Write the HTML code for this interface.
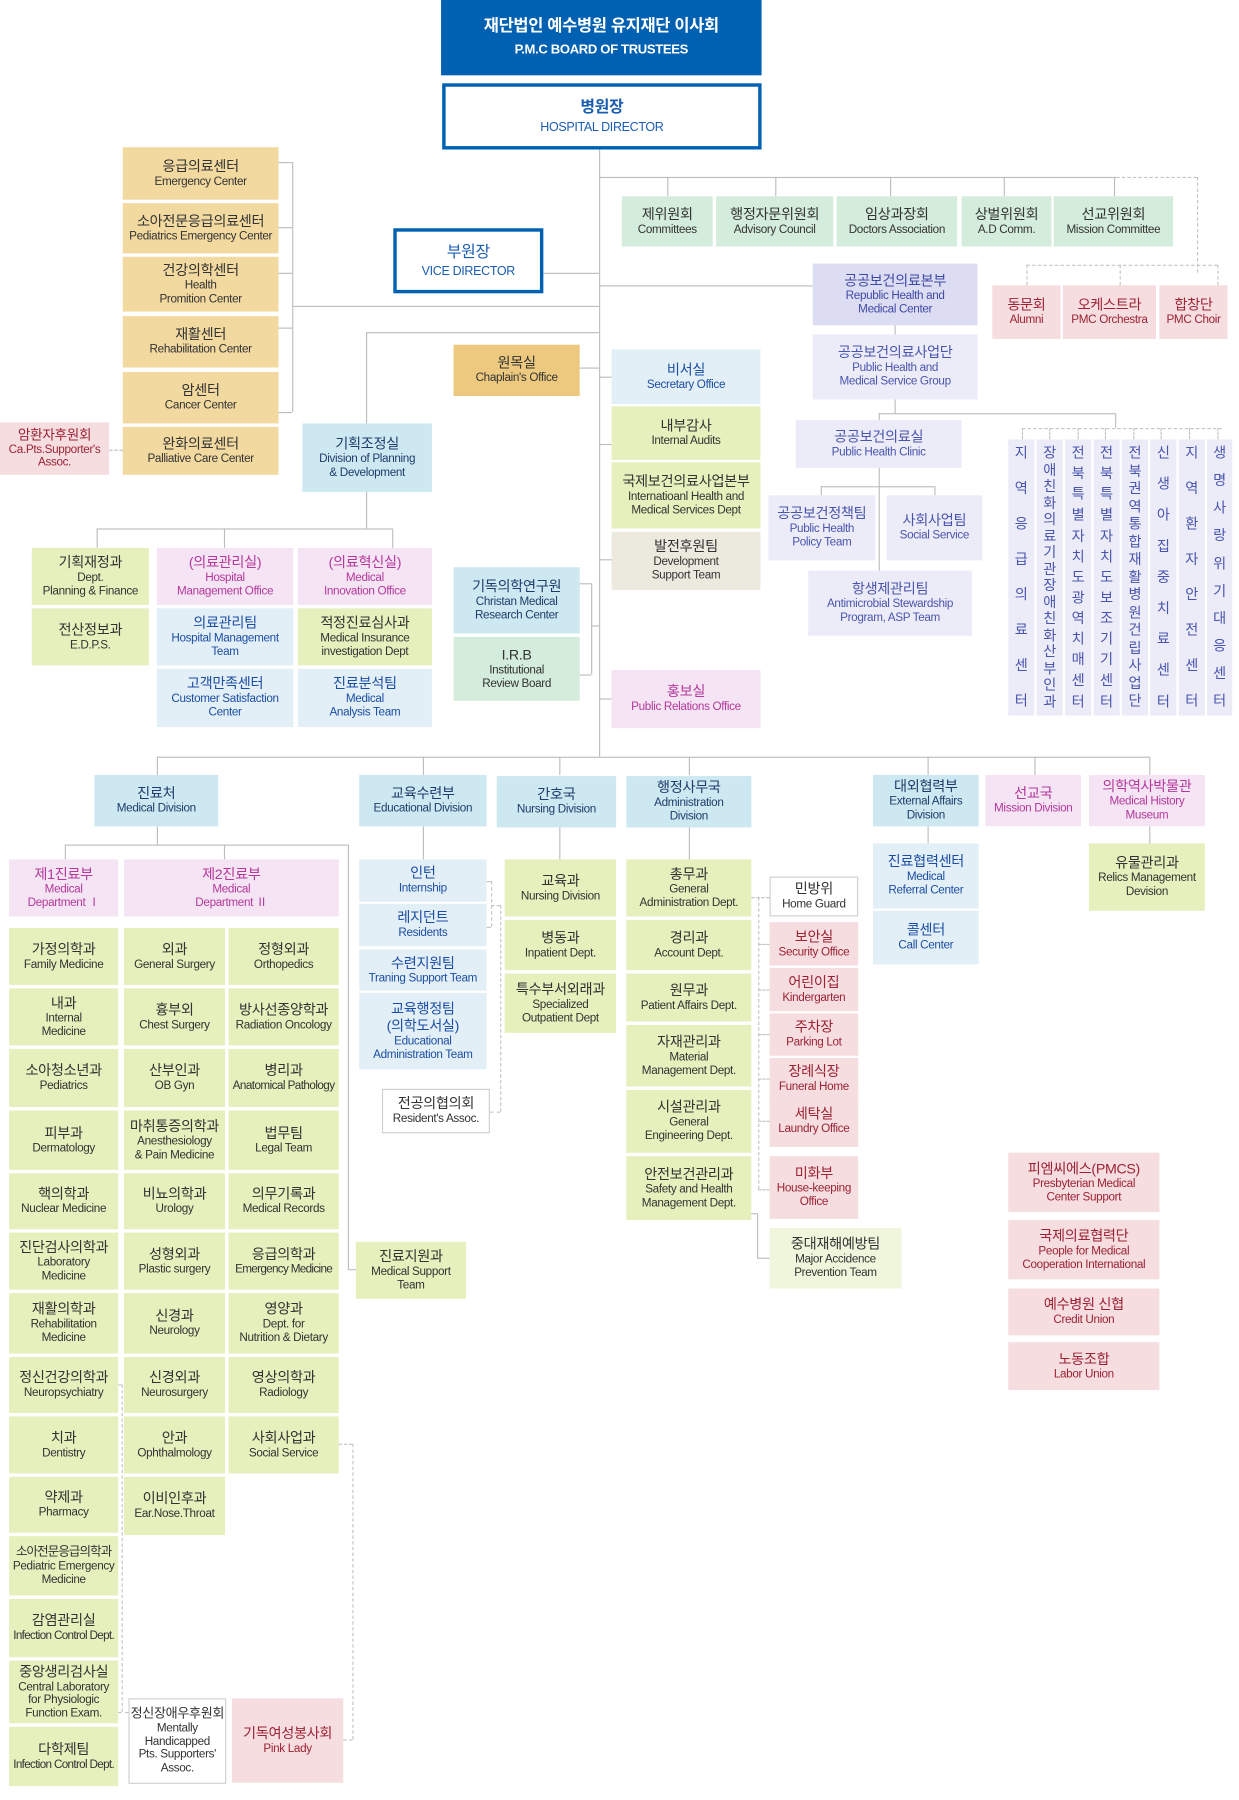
<!DOCTYPE html>
<html><head><meta charset="utf-8">
<style>
html,body{margin:0;padding:0;background:#fff;}
body{width:1239px;height:1792px;overflow:hidden;position:relative;}
#w{position:absolute;left:0;top:0;width:1090px;height:1577px;transform:scale(1.1367,1.1413);transform-origin:0 0;font-family:"Liberation Sans","Noto Sans CJK KR",sans-serif;}
.b{position:absolute;display:flex;flex-direction:column;align-items:center;justify-content:center;text-align:center;box-sizing:border-box;font-size:12.5px;line-height:1.2;color:#333;letter-spacing:-0.3px;}
.b s{text-decoration:none;font-size:10.3px;line-height:1.12;display:block;}
.h{position:absolute;height:0;border-top:1px solid #bdbdbd;}
.v{position:absolute;width:0;border-left:1px solid #bdbdbd;}
.hd{position:absolute;height:0;border-top:1px dashed #c4c4c4;}
.vd{position:absolute;width:0;border-left:1px dashed #c4c4c4;}
.or{background:#f2d9a0;color:#333}
.or2{background:#edc97f;color:#333}
.mi{background:#d3ecdb;color:#333}
.li{background:#e5f0bc;color:#333}
.li2{background:#eff6dc;color:#333}
.lb{background:#cde8f0;color:#1e3d6c}
.lb2{background:#e2eff7;color:#1d4ea3}
.pp{background:#f5e4f3;color:#b3399c}
.pk{background:#f6dde0;color:#9b2335}
.la{background:#dcdcf2;color:#3f4aa5}
.la2{background:#ececf8;color:#4a55ad}
.be{background:#eceadf;color:#333}
.wh{background:#fff;border:1px solid #cfcfcf;color:#333}
.col{position:absolute;background:#ececf8;color:#4a55ad;display:flex;flex-direction:column;align-items:center;justify-content:space-between;padding:6px 0;box-sizing:border-box;font-size:12.5px;line-height:1;}
</style></head><body><div id="w">

<!-- top -->
<div class="b" style="left:388px;top:0;width:282px;height:66px;background:#0061b3;color:#fff;font-size:14.5px;font-weight:bold;">재단법인 예수병원 유지재단 이사회<s style="font-size:11.5px;margin-top:5px;font-weight:bold">P.M.C BOARD OF TRUSTEES</s></div>
<div class="b" style="left:389px;top:73px;width:281px;height:58px;border:3px solid #0061b3;color:#1a5db0;font-size:14px;font-weight:bold;">병원장<s style="font-size:11px;margin-top:4px;font-weight:normal">HOSPITAL DIRECTOR</s></div>

<div class="v" style="left:527px;top:131px;height:532px"></div>

<!-- committees -->
<div class="h" style="left:527px;top:155px;width:455px"></div>
<div class="hd" style="left:982px;top:155px;width:71px"></div>
<div class="vd" style="left:1053px;top:155px;height:84px"></div>
<div class="hd" style="left:903px;top:232px;width:168px"></div>
<div class="vd" style="left:903px;top:232px;height:18px"></div>
<div class="vd" style="left:985px;top:232px;height:18px"></div>
<div class="vd" style="left:1071px;top:232px;height:18px"></div>
<div class="v" style="left:587px;top:155px;height:17px"></div>
<div class="v" style="left:682px;top:155px;height:17px"></div>
<div class="v" style="left:783px;top:155px;height:17px"></div>
<div class="v" style="left:883px;top:155px;height:17px"></div>
<div class="v" style="left:980px;top:155px;height:17px"></div>
<div class="b mi" style="left:547px;top:172px;width:80px;height:44px">제위원회<s>Committees</s></div>
<div class="b mi" style="left:630px;top:172px;width:103px;height:44px">행정자문위원회<s>Advisory Council</s></div>
<div class="b mi" style="left:736px;top:172px;width:106px;height:44px">임상과장회<s>Doctors Association</s></div>
<div class="b mi" style="left:846px;top:172px;width:79px;height:44px">상벌위원회<s>A.D Comm.</s></div>
<div class="b mi" style="left:927px;top:172px;width:105px;height:44px">선교위원회<s>Mission Committee</s></div>
<div class="b pk" style="left:873px;top:250px;width:60px;height:47px">동문회<s>Alumni</s></div>
<div class="b pk" style="left:935px;top:250px;width:82px;height:47px">오케스트라<s>PMC Orchestra</s></div>
<div class="b pk" style="left:1020px;top:250px;width:60px;height:47px">합창단<s>PMC Choir</s></div>

<!-- left orange -->
<div class="b or" style="left:108px;top:129px;width:137px;height:46px">응급의료센터<s>Emergency Center</s></div>
<div class="b or" style="left:108px;top:178px;width:137px;height:44px">소아전문응급의료센터<s>Pediatrics Emergency Center</s></div>
<div class="b or" style="left:108px;top:225px;width:137px;height:48px">건강의학센터<s>Health<br>Promition Center</s></div>
<div class="b or" style="left:108px;top:277px;width:137px;height:45px">재활센터<s>Rehabilitation Center</s></div>
<div class="b or" style="left:108px;top:326px;width:137px;height:45px">암센터<s>Cancer Center</s></div>
<div class="b or" style="left:108px;top:374px;width:137px;height:42px">완화의료센터<s>Palliative Care Center</s></div>
<div class="v" style="left:257px;top:142px;height:219px"></div>
<div class="h" style="left:245px;top:142px;width:12px"></div>
<div class="h" style="left:245px;top:199px;width:12px"></div>
<div class="h" style="left:245px;top:239px;width:12px"></div>
<div class="h" style="left:245px;top:287px;width:12px"></div>
<div class="h" style="left:245px;top:361px;width:12px"></div>
<div class="h" style="left:257px;top:268px;width:270px"></div>
<div class="b pk" style="left:0;top:370px;width:96px;height:46px;font-size:12px">암환자후원회<s>Ca.Pts.Supporter's<br>Assoc.</s></div>
<div class="hd" style="left:96px;top:394px;width:12px"></div>

<!-- vice director -->
<div class="b" style="left:346px;top:200px;width:132px;height:57px;border:3px solid #0061b3;color:#1a5db0;font-size:14px;">부원장<s style="font-size:11px;margin-top:3px">VICE DIRECTOR</s></div>
<div class="h" style="left:478px;top:239px;width:49px"></div>

<!-- planning -->
<div class="h" style="left:322px;top:291px;width:205px"></div>
<div class="v" style="left:322px;top:291px;height:80px"></div>
<div class="b lb" style="left:266px;top:371px;width:114px;height:60px">기획조정실<s>Division of Planning<br>&amp; Development</s></div>
<div class="v" style="left:322px;top:431px;height:32px"></div>
<div class="h" style="left:85px;top:463px;width:260px"></div>
<div class="v" style="left:85px;top:463px;height:17px"></div>
<div class="v" style="left:197px;top:463px;height:17px"></div>
<div class="v" style="left:345px;top:463px;height:17px"></div>
<div class="b li" style="left:28px;top:480px;width:103px;height:50px">기획재정과<s>Dept.<br>Planning &amp; Finance</s></div>
<div class="b li" style="left:28px;top:533px;width:103px;height:50px">전산정보과<s>E.D.P.S.</s></div>
<div class="b pp" style="left:138px;top:480px;width:120px;height:50px">(의료관리실)<s>Hospital<br>Management Office</s></div>
<div class="b lb2" style="left:138px;top:533px;width:120px;height:50px">의료관리팀<s>Hospital Management<br>Team</s></div>
<div class="b lb2" style="left:138px;top:586px;width:120px;height:51px">고객만족센터<s>Customer Satisfaction<br>Center</s></div>
<div class="b pp" style="left:262px;top:480px;width:118px;height:50px">(의료혁신실)<s>Medical<br>Innovation Office</s></div>
<div class="b li" style="left:262px;top:533px;width:118px;height:50px">적정진료심사과<s>Medical Insurance<br>investigation Dept</s></div>
<div class="b lb2" style="left:262px;top:586px;width:118px;height:51px">진료분석팀<s>Medical<br>Analysis Team</s></div>

<!-- chaplain / research -->
<div class="b or2" style="left:399px;top:302px;width:111px;height:45px">원목실<s>Chaplain's Office</s></div>
<div class="h" style="left:510px;top:322px;width:17px"></div>
<div class="b lb" style="left:399px;top:497px;width:111px;height:58px">기독의학연구원<s>Christan Medical<br>Research Center</s></div>
<div class="b mi" style="left:399px;top:558px;width:111px;height:56px">I.R.B<s>Institutional<br>Review Board</s></div>
<div class="v" style="left:520px;top:511px;height:80px"></div>
<div class="h" style="left:510px;top:511px;width:10px"></div>
<div class="h" style="left:510px;top:591px;width:10px"></div>
<div class="h" style="left:520px;top:548px;width:7px"></div>

<!-- middle column -->
<div class="b lb2" style="left:538px;top:306px;width:131px;height:48px">비서실<s>Secretary Office</s></div>
<div class="b li" style="left:538px;top:356px;width:131px;height:47px">내부감사<s>Internal Audits</s></div>
<div class="b li" style="left:538px;top:405px;width:131px;height:58px">국제보건의료사업본부<s>Internatioanl Health and<br>Medical Services Dept</s></div>
<div class="b be" style="left:538px;top:466px;width:131px;height:51px">발전후원팀<s>Development<br>Support Team</s></div>
<div class="b pp" style="left:538px;top:587px;width:131px;height:51px">홍보실<s>Public Relations Office</s></div>
<div class="h" style="left:527px;top:330px;width:11px"></div>
<div class="h" style="left:527px;top:389px;width:11px"></div>
<div class="h" style="left:527px;top:490px;width:11px"></div>
<div class="h" style="left:527px;top:612px;width:11px"></div>

<!-- public health -->
<div class="h" style="left:527px;top:250px;width:188px"></div>
<div class="b la" style="left:715px;top:231px;width:145px;height:54px">공공보건의료본부<s>Republic Health and<br>Medical Center</s></div>
<div class="v" style="left:787px;top:285px;height:8px"></div>
<div class="b la2" style="left:715px;top:293px;width:145px;height:57px">공공보건의료사업단<s>Public Health and<br>Medical Service Group</s></div>
<div class="v" style="left:787px;top:350px;height:12px"></div>
<div class="h" style="left:773px;top:362px;width:208px"></div>
<div class="v" style="left:773px;top:362px;height:6px"></div>
<div class="v" style="left:981px;top:362px;height:13px"></div>
<div class="hd" style="left:899px;top:375px;width:176px"></div>
<div class="b la2" style="left:700px;top:368px;width:146px;height:42px">공공보건의료실<s>Public Health Clinic</s></div>
<div class="v" style="left:773px;top:410px;height:90px"></div>
<div class="h" style="left:722px;top:426px;width:100px"></div>
<div class="v" style="left:722px;top:426px;height:8px"></div>
<div class="v" style="left:822px;top:426px;height:8px"></div>
<div class="b la2" style="left:676px;top:434px;width:94px;height:57px">공공보건정책팀<s>Public Health<br>Policy Team</s></div>
<div class="b la2" style="left:780px;top:434px;width:84px;height:57px">사회사업팀<s>Social Service</s></div>
<div class="b la2" style="left:711px;top:500px;width:144px;height:57px">항생제관리팀<s>Antimicrobial Stewardship<br>Program, ASP Team</s></div>

<div class="vd" style="left:899px;top:375px;height:10px"></div>
<div class="vd" style="left:923px;top:375px;height:10px"></div>
<div class="vd" style="left:948px;top:375px;height:10px"></div>
<div class="vd" style="left:972px;top:375px;height:10px"></div>
<div class="vd" style="left:997px;top:375px;height:10px"></div>
<div class="vd" style="left:1021px;top:375px;height:10px"></div>
<div class="vd" style="left:1046px;top:375px;height:10px"></div>
<div class="vd" style="left:1071px;top:375px;height:10px"></div>
<div class="col" style="left:887px;top:385px;width:23px;height:242px"><span>지</span><span>역</span><span>응</span><span>급</span><span>의</span><span>료</span><span>센</span><span>터</span></div>
<div class="col" style="left:912px;top:385px;width:23px;height:242px"><span>장</span><span>애</span><span>친</span><span>화</span><span>의</span><span>료</span><span>기</span><span>관</span><span>장</span><span>애</span><span>친</span><span>화</span><span>산</span><span>부</span><span>인</span><span>과</span></div>
<div class="col" style="left:937px;top:385px;width:23px;height:242px"><span>전</span><span>북</span><span>특</span><span>별</span><span>자</span><span>치</span><span>도</span><span>광</span><span>역</span><span>치</span><span>매</span><span>센</span><span>터</span></div>
<div class="col" style="left:962px;top:385px;width:23px;height:242px"><span>전</span><span>북</span><span>특</span><span>별</span><span>자</span><span>치</span><span>도</span><span>보</span><span>조</span><span>기</span><span>기</span><span>센</span><span>터</span></div>
<div class="col" style="left:987px;top:385px;width:23px;height:242px"><span>전</span><span>북</span><span>권</span><span>역</span><span>통</span><span>합</span><span>재</span><span>활</span><span>병</span><span>원</span><span>건</span><span>립</span><span>사</span><span>업</span><span>단</span></div>
<div class="col" style="left:1012px;top:385px;width:23px;height:242px"><span>신</span><span>생</span><span>아</span><span>집</span><span>중</span><span>치</span><span>료</span><span>센</span><span>터</span></div>
<div class="col" style="left:1037px;top:385px;width:23px;height:242px"><span>지</span><span>역</span><span>환</span><span>자</span><span>안</span><span>전</span><span>센</span><span>터</span></div>
<div class="col" style="left:1062px;top:385px;width:22px;height:242px"><span>생</span><span>명</span><span>사</span><span>랑</span><span>위</span><span>기</span><span>대</span><span>응</span><span>센</span><span>터</span></div>

<!-- bottom divisions -->
<div class="h" style="left:138px;top:663px;width:873px"></div>
<div class="v" style="left:138px;top:663px;height:16px"></div>
<div class="v" style="left:372px;top:663px;height:16px"></div>
<div class="v" style="left:492px;top:663px;height:16px"></div>
<div class="v" style="left:606px;top:663px;height:16px"></div>
<div class="v" style="left:816px;top:663px;height:16px"></div>
<div class="v" style="left:910px;top:663px;height:16px"></div>
<div class="v" style="left:1011px;top:663px;height:16px"></div>
<div class="b lb" style="left:83px;top:679px;width:109px;height:45px">진료처<s>Medical Division</s></div>
<div class="b lb" style="left:316px;top:679px;width:112px;height:45px">교육수련부<s>Educational Division</s></div>
<div class="b lb" style="left:437px;top:680px;width:105px;height:45px">간호국<s>Nursing Division</s></div>
<div class="b lb" style="left:551px;top:680px;width:110px;height:45px">행정사무국<s>Administration<br>Division</s></div>
<div class="b lb" style="left:768px;top:679px;width:93px;height:45px">대외협력부<s>External Affairs<br>Division</s></div>
<div class="b pp" style="left:867px;top:679px;width:84px;height:45px">선교국<s>Mission Division</s></div>
<div class="b pp" style="left:958px;top:679px;width:102px;height:45px">의학역사박물관<s>Medical History<br>Museum</s></div>

<!-- medical division -->
<div class="v" style="left:138px;top:724px;height:16px"></div>
<div class="h" style="left:57px;top:740px;width:249px"></div>
<div class="v" style="left:57px;top:740px;height:13px"></div>
<div class="v" style="left:197px;top:740px;height:13px"></div>
<div class="v" style="left:306px;top:740px;height:372px"></div>
<div class="h" style="left:306px;top:1112px;width:7px"></div>
<div class="b pp" style="left:8px;top:753px;width:96px;height:50px">제1진료부<s>Medical<br>Department Ⅰ</s></div>
<div class="b pp" style="left:109px;top:753px;width:189px;height:50px">제2진료부<s>Medical<br>Department Ⅱ</s></div>

<div class="b li" style="left:8px;top:813px;width:96px;height:50px">가정의학과<s>Family Medicine</s></div>
<div class="b li" style="left:8px;top:866px;width:96px;height:50px">내과<s>Internal<br>Medicine</s></div>
<div class="b li" style="left:8px;top:919px;width:96px;height:51px">소아청소년과<s>Pediatrics</s></div>
<div class="b li" style="left:8px;top:973px;width:96px;height:52px">피부과<s>Dermatology</s></div>
<div class="b li" style="left:8px;top:1028px;width:96px;height:49px">핵의학과<s>Nuclear Medicine</s></div>
<div class="b li" style="left:8px;top:1080px;width:96px;height:50px">진단검사의학과<s>Laboratory<br>Medicine</s></div>
<div class="b li" style="left:8px;top:1133px;width:96px;height:53px">재활의학과<s>Rehabilitation<br>Medicine</s></div>
<div class="b li" style="left:8px;top:1189px;width:96px;height:49px">정신건강의학과<s>Neuropsychiatry</s></div>
<div class="b li" style="left:8px;top:1241px;width:96px;height:50px">치과<s>Dentistry</s></div>
<div class="b li" style="left:8px;top:1294px;width:96px;height:49px">약제과<s>Pharmacy</s></div>
<div class="b li" style="left:8px;top:1346px;width:96px;height:52px;font-size:11px;letter-spacing:-0.8px;white-space:nowrap">소아전문응급의학과<s style="letter-spacing:-0.3px">Pediatric Emergency<br>Medicine</s></div>
<div class="b li" style="left:8px;top:1401px;width:96px;height:51px">감염관리실<s style="letter-spacing:-0.6px">Infection Control Dept.</s></div>
<div class="b li" style="left:8px;top:1455px;width:96px;height:55px">중앙생리검사실<s>Central Laboratory<br>for Physiologic<br>Function Exam.</s></div>
<div class="b li" style="left:8px;top:1513px;width:96px;height:52px">다학제팀<s style="letter-spacing:-0.6px">Infection Control Dept.</s></div>

<div class="b li" style="left:109px;top:813px;width:89px;height:50px">외과<s>General Surgery</s></div>
<div class="b li" style="left:109px;top:866px;width:89px;height:50px">흉부외<s>Chest Surgery</s></div>
<div class="b li" style="left:109px;top:919px;width:89px;height:51px">산부인과<s>OB Gyn</s></div>
<div class="b li" style="left:109px;top:973px;width:89px;height:52px">마취통증의학과<s>Anesthesiology<br>&amp; Pain Medicine</s></div>
<div class="b li" style="left:109px;top:1028px;width:89px;height:49px">비뇨의학과<s>Urology</s></div>
<div class="b li" style="left:109px;top:1080px;width:89px;height:50px">성형외과<s>Plastic surgery</s></div>
<div class="b li" style="left:109px;top:1133px;width:89px;height:53px">신경과<s>Neurology</s></div>
<div class="b li" style="left:109px;top:1189px;width:89px;height:49px">신경외과<s>Neurosurgery</s></div>
<div class="b li" style="left:109px;top:1241px;width:89px;height:50px">안과<s>Ophthalmology</s></div>
<div class="b li" style="left:109px;top:1294px;width:89px;height:51px">이비인후과<s>Ear.Nose.Throat</s></div>

<div class="b li" style="left:201px;top:813px;width:97px;height:50px">정형외과<s>Orthopedics</s></div>
<div class="b li" style="left:201px;top:866px;width:97px;height:50px">방사선종양학과<s>Radiation Oncology</s></div>
<div class="b li" style="left:201px;top:919px;width:97px;height:51px">병리과<s style="letter-spacing:-0.5px">Anatomical Pathology</s></div>
<div class="b li" style="left:201px;top:973px;width:97px;height:52px">법무팀<s>Legal Team</s></div>
<div class="b li" style="left:201px;top:1028px;width:97px;height:49px">의무기록과<s>Medical Records</s></div>
<div class="b li" style="left:201px;top:1080px;width:97px;height:50px">응급의학과<s style="letter-spacing:-0.6px">Emergency Medicine</s></div>
<div class="b li" style="left:201px;top:1133px;width:97px;height:53px">영양과<s>Dept. for<br>Nutrition &amp; Dietary</s></div>
<div class="b li" style="left:201px;top:1189px;width:97px;height:49px">영상의학과<s>Radiology</s></div>
<div class="b li" style="left:201px;top:1241px;width:97px;height:50px">사회사업과<s>Social Service</s></div>

<div class="vd" style="left:107px;top:1213px;height:287px"></div>
<div class="hd" style="left:104px;top:1213px;width:3px"></div>
<div class="hd" style="left:104px;top:1500px;width:9px"></div>
<div class="b wh" style="left:113px;top:1488px;width:86px;height:75px;font-size:11.5px">정신장애우후원회<s>Mentally<br>Handicapped<br>Pts. Supporters'<br>Assoc.</s></div>
<div class="b pk" style="left:204px;top:1488px;width:98px;height:74px">기독여성봉사회<s>Pink Lady</s></div>
<div class="hd" style="left:298px;top:1265px;width:12px"></div>
<div class="vd" style="left:310px;top:1265px;height:259px"></div>
<div class="hd" style="left:302px;top:1524px;width:8px"></div>

<!-- education -->
<div class="v" style="left:372px;top:724px;height:29px"></div>
<div class="b lb2" style="left:316px;top:753px;width:112px;height:37px">인턴<s>Internship</s></div>
<div class="b lb2" style="left:316px;top:792px;width:112px;height:37px">레지던트<s>Residents</s></div>
<div class="b lb2" style="left:316px;top:832px;width:112px;height:36px">수련지원팀<s>Traning Support Team</s></div>
<div class="b lb2" style="left:316px;top:870px;width:112px;height:67px">교육행정팀<br>(의학도서실)<s>Educational<br>Administration Team</s></div>
<div class="hd" style="left:428px;top:772px;width:4px"></div>
<div class="hd" style="left:428px;top:812px;width:4px"></div>
<div class="vd" style="left:432px;top:772px;height:40px"></div>
<div class="hd" style="left:432px;top:793px;width:8px"></div>
<div class="vd" style="left:440px;top:793px;height:181px"></div>
<div class="hd" style="left:431px;top:974px;width:9px"></div>
<div class="b wh" style="left:336px;top:954px;width:95px;height:39px">전공의협의회<s>Resident's Assoc.</s></div>
<div class="b li" style="left:313px;top:1088px;width:97px;height:50px">진료지원과<s>Medical Support<br>Team</s></div>

<!-- nursing -->
<div class="v" style="left:492px;top:725px;height:28px"></div>
<div class="b li" style="left:444px;top:753px;width:98px;height:50px">교육과<s>Nursing Division</s></div>
<div class="b li" style="left:444px;top:806px;width:98px;height:44px">병동과<s>Inpatient Dept.</s></div>
<div class="b li" style="left:444px;top:853px;width:98px;height:52px">특수부서외래과<s>Specialized<br>Outpatient Dept</s></div>

<!-- administration -->
<div class="v" style="left:606px;top:725px;height:28px"></div>
<div class="b li" style="left:551px;top:753px;width:110px;height:50px">총무과<s>General<br>Administration Dept.</s></div>
<div class="b li" style="left:551px;top:806px;width:110px;height:44px">경리과<s>Account Dept.</s></div>
<div class="b li" style="left:551px;top:853px;width:110px;height:42px">원무과<s>Patient Affairs Dept.</s></div>
<div class="b li" style="left:551px;top:898px;width:110px;height:54px">자재관리과<s>Material<br>Management Dept.</s></div>
<div class="b li" style="left:551px;top:955px;width:110px;height:55px">시설관리과<s>General<br>Engineering Dept.</s></div>
<div class="b li" style="left:551px;top:1013px;width:110px;height:56px">안전보건관리과<s>Safety and Health<br>Management Dept.</s></div>
<div class="hd" style="left:661px;top:786px;width:16px"></div>
<div class="vd" style="left:667px;top:786px;height:256px"></div>
<div class="hd" style="left:667px;top:827px;width:10px"></div>
<div class="hd" style="left:667px;top:867px;width:10px"></div>
<div class="hd" style="left:667px;top:906px;width:10px"></div>
<div class="hd" style="left:667px;top:945px;width:10px"></div>
<div class="hd" style="left:667px;top:982px;width:10px"></div>
<div class="hd" style="left:667px;top:1042px;width:10px"></div>
<div class="h" style="left:661px;top:1063px;width:5px"></div>
<div class="v" style="left:666px;top:1063px;height:39px"></div>
<div class="h" style="left:666px;top:1102px;width:11px"></div>
<div class="b wh" style="left:677px;top:768px;width:78px;height:35px">민방위<s>Home Guard</s></div>
<div class="b pk" style="left:677px;top:808px;width:78px;height:38px">보안실<s>Security Office</s></div>
<div class="b pk" style="left:677px;top:848px;width:78px;height:38px">어린이집<s>Kindergarten</s></div>
<div class="b pk" style="left:677px;top:888px;width:78px;height:37px">주차장<s>Parking Lot</s></div>
<div class="b pk" style="left:677px;top:927px;width:78px;height:37px">장례식장<s>Funeral Home</s></div>
<div class="b pk" style="left:677px;top:959px;width:78px;height:46px">세탁실<s>Laundry Office</s></div>
<div class="b pk" style="left:677px;top:1013px;width:78px;height:55px">미화부<s>House-keeping<br>Office</s></div>
<div class="b li2" style="left:677px;top:1076px;width:116px;height:53px">중대재해예방팀<s>Major Accidence<br>Prevention Team</s></div>

<!-- external / museum -->
<div class="v" style="left:816px;top:724px;height:15px"></div>
<div class="b lb2" style="left:768px;top:739px;width:93px;height:57px">진료협력센터<s>Medical<br>Referral Center</s></div>
<div class="b lb2" style="left:768px;top:798px;width:93px;height:47px">콜센터<s>Call Center</s></div>
<div class="v" style="left:1011px;top:724px;height:15px"></div>
<div class="b li" style="left:958px;top:739px;width:102px;height:59px">유물관리과<s>Relics Management<br>Devision</s></div>

<div class="b pk" style="left:887px;top:1010px;width:133px;height:52px">피엠씨에스(PMCS)<s>Presbyterian Medical<br>Center Support</s></div>
<div class="b pk" style="left:887px;top:1069px;width:133px;height:52px">국제의료협력단<s>People for Medical<br>Cooperation International</s></div>
<div class="b pk" style="left:887px;top:1129px;width:133px;height:41px">예수병원 신협<s>Credit Union</s></div>
<div class="b pk" style="left:887px;top:1176px;width:133px;height:42px">노동조합<s>Labor Union</s></div>

</div></body></html>
